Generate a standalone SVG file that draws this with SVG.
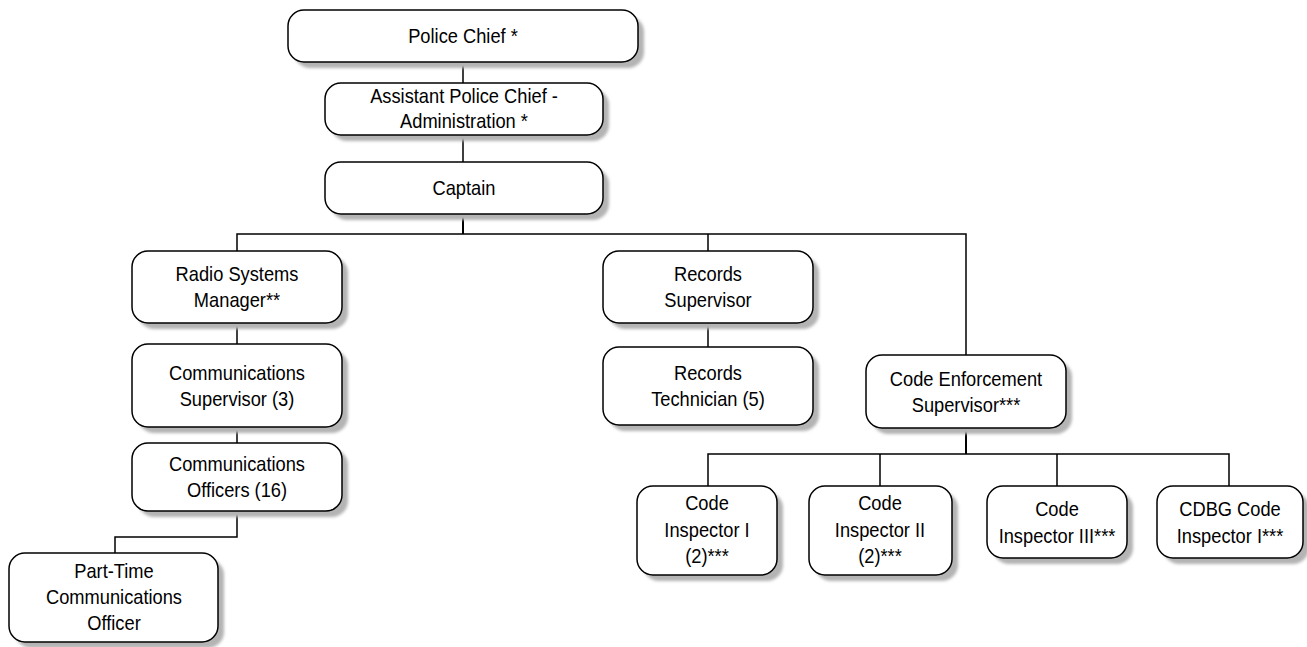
<svg xmlns="http://www.w3.org/2000/svg" width="1307" height="647" viewBox="0 0 1307 647">
<defs>
<filter id="blur" x="-10%" y="-10%" width="120%" height="120%"><feGaussianBlur stdDeviation="1.5"/></filter>
</defs>
<style>
.sh{fill:#b4b4b4;filter:url(#blur)}
.box{fill:#fff;stroke:#000;stroke-width:1.5}
text{font-family:"Liberation Sans",Arial,sans-serif;font-size:21px;fill:#000;text-anchor:middle}
.c{fill:none;stroke:#000;stroke-width:1.5}
.t{fill:none;stroke:#000;stroke-width:2}
</style>
<g id="connectors">
<path class="c" d="M463 62V83M463 135V162"/>
<path class="t" d="M463 214V234"/>
<path class="c" d="M237 251V234H966V355M708 234V251"/>
<path class="c" d="M237 323V344M237 427V443M237 511V537H115V553"/>
<path class="c" d="M708 323V347"/>
<path class="t" d="M966 428V454"/>
<path class="c" d="M708 486V454H1229V486M880 454V486M1057 454V486"/>
</g>
<g id="police-chief"><rect class="sh" x="294" y="16" width="350" height="52" rx="16"/><rect class="box" x="288" y="10" width="350" height="52" rx="16"/><g transform="translate(463 0) scale(0.87 1)"><text x="0" y="43">Police Chief *</text></g></g>
<g id="assistant-chief"><rect class="sh" x="331" y="89" width="278" height="52" rx="16"/><rect class="box" x="325" y="83" width="278" height="52" rx="16"/><g transform="translate(464 0) scale(0.87 1)"><text x="0" y="103">Assistant Police Chief -</text><text x="0" y="128">Administration *</text></g></g>
<g id="captain"><rect class="sh" x="331" y="168" width="278" height="52" rx="16"/><rect class="box" x="325" y="162" width="278" height="52" rx="16"/><g transform="translate(464 0) scale(0.87 1)"><text x="0" y="195">Captain</text></g></g>
<g id="radio-systems-manager"><rect class="sh" x="138" y="257" width="210" height="72" rx="16"/><rect class="box" x="132" y="251" width="210" height="72" rx="16"/><g transform="translate(237 0) scale(0.87 1)"><text x="0" y="281">Radio Systems</text><text x="0" y="307">Manager**</text></g></g>
<g id="communications-supervisor"><rect class="sh" x="138" y="350" width="210" height="83" rx="16"/><rect class="box" x="132" y="344" width="210" height="83" rx="16"/><g transform="translate(237 0) scale(0.87 1)"><text x="0" y="380">Communications</text><text x="0" y="406">Supervisor (3)</text></g></g>
<g id="communications-officers"><rect class="sh" x="138" y="449" width="210" height="68" rx="16"/><rect class="box" x="132" y="443" width="210" height="68" rx="16"/><g transform="translate(237 0) scale(0.87 1)"><text x="0" y="471">Communications</text><text x="0" y="497">Officers (16)</text></g></g>
<g id="part-time-officer"><rect class="sh" x="15" y="559" width="209" height="89" rx="16"/><rect class="box" x="9" y="553" width="209" height="89" rx="16"/><g transform="translate(114 0) scale(0.87 1)"><text x="0" y="578">Part-Time</text><text x="0" y="604">Communications</text><text x="0" y="630">Officer</text></g></g>
<g id="records-supervisor"><rect class="sh" x="609" y="257" width="210" height="72" rx="16"/><rect class="box" x="603" y="251" width="210" height="72" rx="16"/><g transform="translate(708 0) scale(0.87 1)"><text x="0" y="281">Records</text><text x="0" y="307">Supervisor</text></g></g>
<g id="records-technician"><rect class="sh" x="609" y="353" width="210" height="78" rx="16"/><rect class="box" x="603" y="347" width="210" height="78" rx="16"/><g transform="translate(708 0) scale(0.87 1)"><text x="0" y="380">Records</text><text x="0" y="406">Technician (5)</text></g></g>
<g id="code-enforcement-supervisor"><rect class="sh" x="872" y="361" width="200" height="73" rx="16"/><rect class="box" x="866" y="355" width="200" height="73" rx="16"/><g transform="translate(966 0) scale(0.87 1)"><text x="0" y="386">Code Enforcement</text><text x="0" y="412">Supervisor***</text></g></g>
<g id="code-inspector-1"><rect class="sh" x="643" y="492" width="140" height="89" rx="16"/><rect class="box" x="637" y="486" width="140" height="89" rx="16"/><g transform="translate(707 0) scale(0.87 1)"><text x="0" y="510">Code</text><text x="0" y="537">Inspector I</text><text x="0" y="563">(2)***</text></g></g>
<g id="code-inspector-2"><rect class="sh" x="815" y="492" width="143" height="89" rx="16"/><rect class="box" x="809" y="486" width="143" height="89" rx="16"/><g transform="translate(880 0) scale(0.87 1)"><text x="0" y="510">Code</text><text x="0" y="537">Inspector II</text><text x="0" y="563">(2)***</text></g></g>
<g id="code-inspector-3"><rect class="sh" x="993" y="492" width="140" height="72" rx="16"/><rect class="box" x="987" y="486" width="140" height="72" rx="16"/><g transform="translate(1057 0) scale(0.87 1)"><text x="0" y="516">Code</text><text x="0" y="543">Inspector III***</text></g></g>
<g id="cdbg-code-inspector"><rect class="sh" x="1163" y="492" width="146" height="72" rx="16"/><rect class="box" x="1157" y="486" width="146" height="72" rx="16"/><g transform="translate(1230 0) scale(0.87 1)"><text x="0" y="516">CDBG Code</text><text x="0" y="543">Inspector I***</text></g></g>
</svg>
